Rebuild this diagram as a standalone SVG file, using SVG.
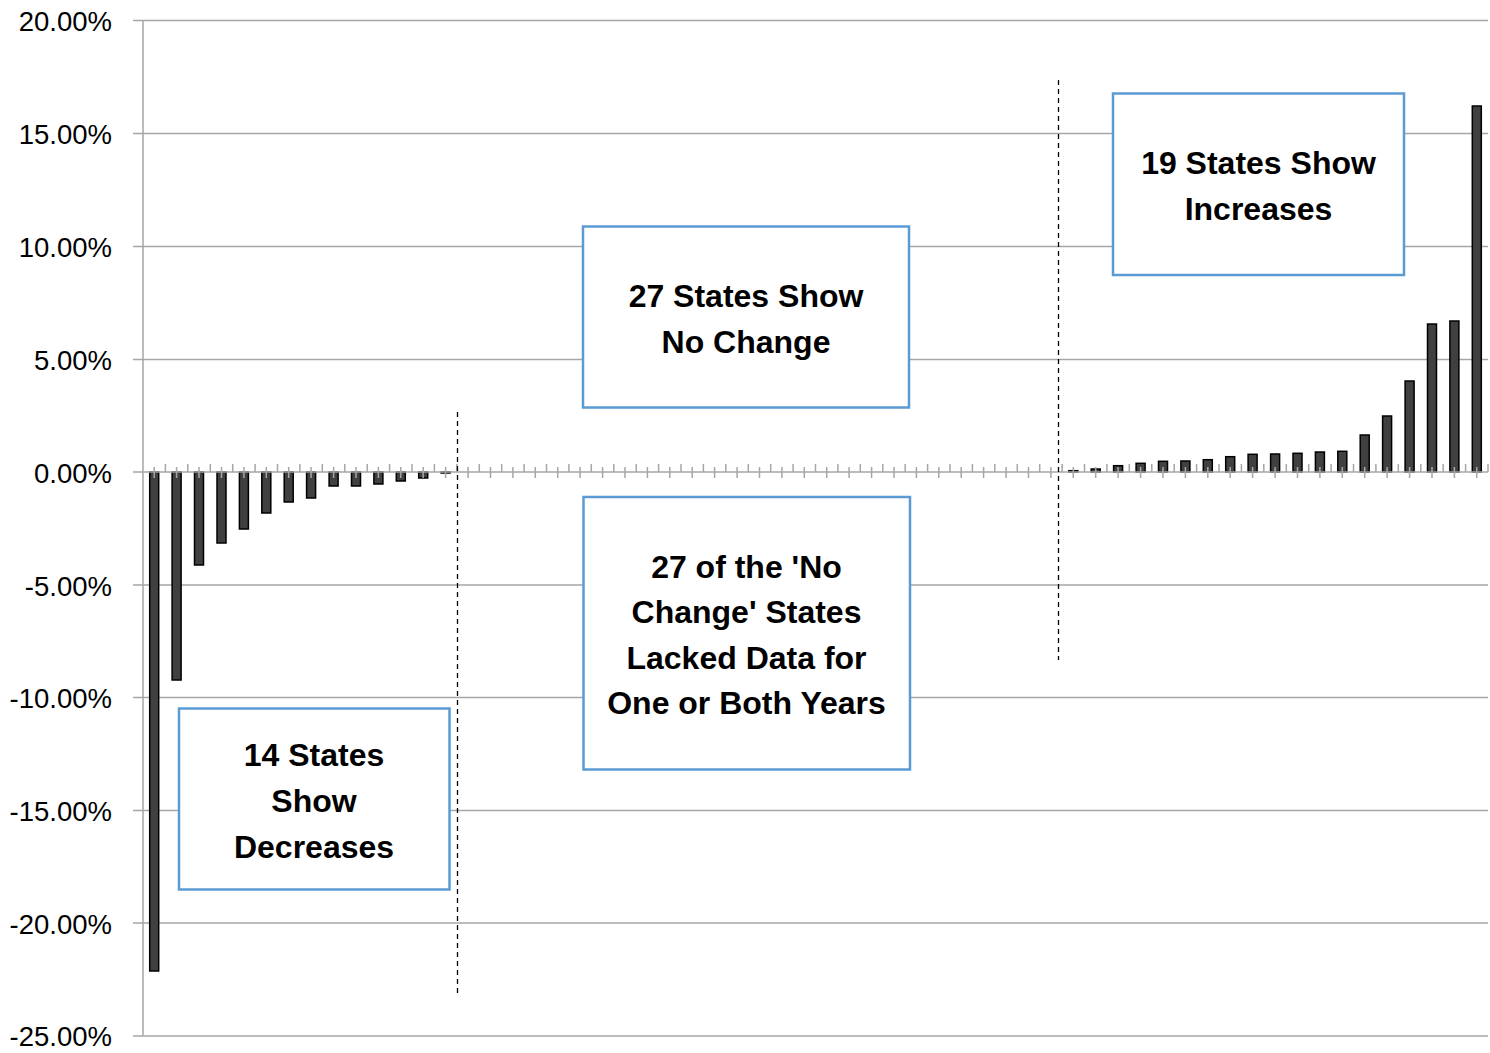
<svg xmlns="http://www.w3.org/2000/svg" width="1490" height="1053" viewBox="0 0 1490 1053">
<style>
.grid{stroke:#a6a6a6;stroke-width:1.5;fill:none}
.tick{stroke:#a6a6a6;stroke-width:1.5;fill:none}
.lbl{font-family:"Liberation Sans",Arial,sans-serif;font-size:27.5px;fill:#000;text-anchor:end}
.bar{fill:#404040;stroke:#000;stroke-width:1.5}
.box{fill:#fff;stroke:#5b9bd5;stroke-width:2.5}
.bt{font-family:"Liberation Sans",Arial,sans-serif;font-size:32px;font-weight:bold;fill:#000;text-anchor:middle}
.dash{stroke:#000;stroke-width:1.3;stroke-dasharray:5,4;fill:none}
</style>
<rect width="1490" height="1053" fill="#fff"/>
<g id="gridlines">
<path class="grid" d="M133 20.5H1488M133 133.5H1488M133 246.5H1488M133 359.5H1488M133 585H1488M133 697.5H1488M133 810.5H1488M133 923H1488M133 1036H1488M143 20V1036"/>
</g>
<g id="axis-labels">
<text class="lbl" x="112" y="31">20.00%</text>
<text class="lbl" x="112" y="144">15.00%</text>
<text class="lbl" x="112" y="257">10.00%</text>
<text class="lbl" x="112" y="370">5.00%</text>
<text class="lbl" x="112" y="483">0.00%</text>
<text class="lbl" x="112" y="596">-5.00%</text>
<text class="lbl" x="112" y="708">-10.00%</text>
<text class="lbl" x="112" y="821">-15.00%</text>
<text class="lbl" x="112" y="934">-20.00%</text>
<text class="lbl" x="112" y="1046">-25.00%</text>
</g>
<g id="bars">
<rect class="bar" x="149.7" y="472" width="9" height="499"/>
<rect class="bar" x="172.1" y="472" width="9" height="208"/>
<rect class="bar" x="194.5" y="472" width="9" height="93"/>
<rect class="bar" x="217" y="472" width="9" height="71"/>
<rect class="bar" x="239.4" y="472" width="9" height="57"/>
<rect class="bar" x="261.8" y="472" width="9" height="41"/>
<rect class="bar" x="284.2" y="472" width="9" height="30"/>
<rect class="bar" x="306.6" y="472" width="9" height="26"/>
<rect class="bar" x="329.1" y="472" width="9" height="14"/>
<rect class="bar" x="351.5" y="472" width="9" height="14"/>
<rect class="bar" x="373.9" y="472" width="9" height="12"/>
<rect class="bar" x="396.3" y="472" width="9" height="9"/>
<rect class="bar" x="418.7" y="472" width="9" height="6"/>
<rect class="bar" x="441.1" y="472" width="9" height="1"/>
<rect class="bar" x="1068.8" y="470.7" width="9" height="1.3"/>
<rect class="bar" x="1091.2" y="469" width="9" height="3"/>
<rect class="bar" x="1113.6" y="465.7" width="9" height="6.3"/>
<rect class="bar" x="1136.1" y="463.3" width="9" height="8.7"/>
<rect class="bar" x="1158.5" y="461.3" width="9" height="10.7"/>
<rect class="bar" x="1180.9" y="461" width="9" height="11"/>
<rect class="bar" x="1203.3" y="459.7" width="9" height="12.3"/>
<rect class="bar" x="1225.7" y="456.7" width="9" height="15.3"/>
<rect class="bar" x="1248.1" y="454.3" width="9" height="17.7"/>
<rect class="bar" x="1270.6" y="454" width="9" height="18"/>
<rect class="bar" x="1293" y="453.3" width="9" height="18.7"/>
<rect class="bar" x="1315.4" y="452" width="9" height="20"/>
<rect class="bar" x="1337.8" y="451.3" width="9" height="20.7"/>
<rect class="bar" x="1360.2" y="435" width="9" height="37"/>
<rect class="bar" x="1382.6" y="416" width="9" height="56"/>
<rect class="bar" x="1405.1" y="381" width="9" height="91"/>
<rect class="bar" x="1427.5" y="324" width="9" height="148"/>
<rect class="bar" x="1449.9" y="321" width="9" height="151"/>
<rect class="bar" x="1472.3" y="106" width="9" height="366"/>
</g>
<g id="x-axis">
<path class="grid" d="M133 472H1488"/>
<path class="tick" d="M165.4 464V472M187.8 464V472M210.3 464V472M232.7 464V472M255.1 464V472M277.5 464V472M299.9 464V472M322.3 464V472M344.8 464V472M367.2 464V472M389.6 464V472M412 464V472M434.4 464V472M456.8 464V472M479.3 464V472M501.7 464V472M524.1 464V472M546.5 464V472M568.9 464V472M591.3 464V472M613.8 464V472M636.2 464V472M658.6 464V472M681 464V472M703.4 464V472M725.8 464V472M748.3 464V472M770.7 464V472M793.1 464V472M815.5 464V472M837.9 464V472M860.3 464V472M882.8 464V472M905.2 464V472M927.6 464V472M950 464V472M972.4 464V472M994.8 464V472M1017.3 464V472M1039.7 464V472M1062.1 464V472M1084.5 464V472M1106.9 464V472M1129.3 464V472M1151.8 464V472M1174.2 464V472M1196.6 464V472M1219 464V472M1241.4 464V472M1263.8 464V472M1286.3 464V472M1308.7 464V472M1331.1 464V472M1353.5 464V472M1375.9 464V472M1398.3 464V472M1420.8 464V472M1443.2 464V472M1465.6 464V472M1488 464V472"/>
<path class="tick" d="M154.2 467V478M176.6 467V478M199 467V478M221.5 467V478M243.9 467V478M266.3 467V478M288.7 467V478M311.1 467V478M333.6 467V478M356 467V478M378.4 467V478M400.8 467V478M423.2 467V478M445.6 467V478M468.1 467V478M490.5 467V478M512.9 467V478M535.3 467V478M557.7 467V478M580.1 467V478M602.6 467V478M625 467V478M647.4 467V478M669.8 467V478M692.2 467V478M714.6 467V478M737.1 467V478M759.5 467V478M781.9 467V478M804.3 467V478M826.7 467V478M849.1 467V478M871.6 467V478M894 467V478M916.4 467V478M938.8 467V478M961.2 467V478M983.6 467V478M1006.1 467V478M1028.5 467V478M1050.9 467V478M1073.3 467V478M1095.7 467V478M1118.1 467V478M1140.6 467V478M1163 467V478M1185.4 467V478M1207.8 467V478M1230.2 467V478M1252.6 467V478M1275.1 467V478M1297.5 467V478M1319.9 467V478M1342.3 467V478M1364.7 467V478M1387.1 467V478M1409.6 467V478M1432 467V478M1454.4 467V478M1476.8 467V478"/>
</g>
<g id="connectors">
<path class="dash" d="M457.5 412V993"/>
<path class="dash" d="M1058.5 80V660"/>
</g>
<g id="node-no-change">
<rect class="box" x="583" y="226.5" width="326" height="181"/>
<text class="bt" x="746" y="307">27 States Show</text>
<text class="bt" x="746" y="353">No Change</text>
</g>
<g id="node-lacked-data">
<rect class="box" x="583.5" y="497" width="326.5" height="272.5"/>
<text class="bt" x="746.5" y="578">27 of the 'No</text>
<text class="bt" x="746.5" y="623">Change' States</text>
<text class="bt" x="746.5" y="669">Lacked Data for</text>
<text class="bt" x="746.5" y="714">One or Both Years</text>
</g>
<g id="node-increases">
<rect class="box" x="1113" y="93.5" width="291" height="181.5"/>
<text class="bt" x="1258.5" y="174">19 States Show</text>
<text class="bt" x="1258.5" y="220">Increases</text>
</g>
<g id="node-decreases">
<rect class="box" x="179" y="708.5" width="270.5" height="181"/>
<text class="bt" x="314" y="766">14 States</text>
<text class="bt" x="314" y="812">Show</text>
<text class="bt" x="314" y="858">Decreases</text>
</g>
</svg>
